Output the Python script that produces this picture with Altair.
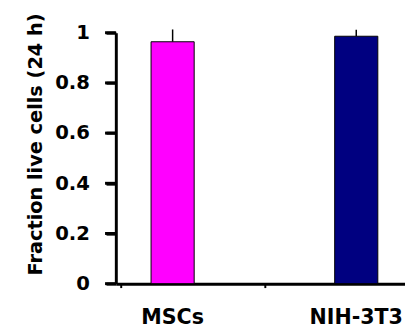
import altair as alt
import pandas as pd

categories = ["MSCs", "NIH-3T3"]
fractions = [0.964, 0.986]
errors = [0.049, 0.026]
colors = ["#FF00FF", "#000080"]
y_ticks = [0, 0.2, 0.4, 0.6, 0.8, 1]

df = pd.DataFrame({"cell": categories, "frac": fractions, "err": errors, "color": colors})
df["idx"] = list(range(len(df)))
df["top"] = df["frac"] + df["err"]
ticks_df = pd.DataFrame({"t": y_ticks})

XDOM = [-0.2826, 1.2388]
FONT = "DejaVu Sans"

x_enc = alt.X(
    "idx:Q",
    scale=alt.Scale(domain=XDOM, nice=False, zero=False),
    axis=alt.Axis(values=[XDOM[0], 0.5], labels=False, title=None),
)
y_scale = alt.Scale(domain=[0, 1], nice=False)
y_axis = alt.Axis(values=y_ticks, format="~g", title="Fraction live cells (24 h)")
y_enc = alt.Y("frac:Q", scale=y_scale, axis=y_axis)

base = alt.Chart(df)
bars = base.mark_bar(size=44, stroke="black", strokeWidth=1).encode(
    x=x_enc, y=y_enc, color=alt.Color("color:N", scale=None),
)
rules = base.mark_rule(strokeWidth=1.5, color="black").encode(
    x=x_enc, y=y_enc, y2="top:Q",
)
labels = base.mark_text(font=FONT, fontWeight="bold", fontSize=21, baseline="alphabetic",
                        align="center", color="black").encode(
    x=x_enc, y=alt.value(297), text="cell:N",
)
yticks = alt.Chart(ticks_df).mark_tick(orient="horizontal", size=11, thickness=3,
                                        color="black", opacity=1).encode(
    y=alt.Y("t:Q", scale=y_scale, axis=y_axis),
    x=alt.value(-5.5),
)

chart = alt.layer(rules, bars, labels, yticks).properties(
    width=295, height=256,
    autosize=alt.AutoSizeParams(type="none"),
    padding={"left": 110, "top": 22, "right": 0, "bottom": 42},
    background="white",
).configure_view(strokeWidth=0).configure_axis(
    grid=False, domainColor="black", domainWidth=3, ticks=True,
).configure_axisX(
    tickSize=4, tickWidth=2, tickColor="black",
).configure_axisY(
    tickSize=10, tickWidth=3, tickColor="black",
    labelFont=FONT, labelFontWeight="bold", labelFontSize=20, labelColor="black", labelPadding=17,
    titleFont=FONT, titleFontWeight="bold", titleFontSize=19.7,
    titleColor="black", titleAngle=270, titleX=-76.3, titleY=113.5, titleBaseline="alphabetic",
    titleAlign="center",
)

chart.save("out.html", embed_options={"renderer": "svg", "actions": False})
